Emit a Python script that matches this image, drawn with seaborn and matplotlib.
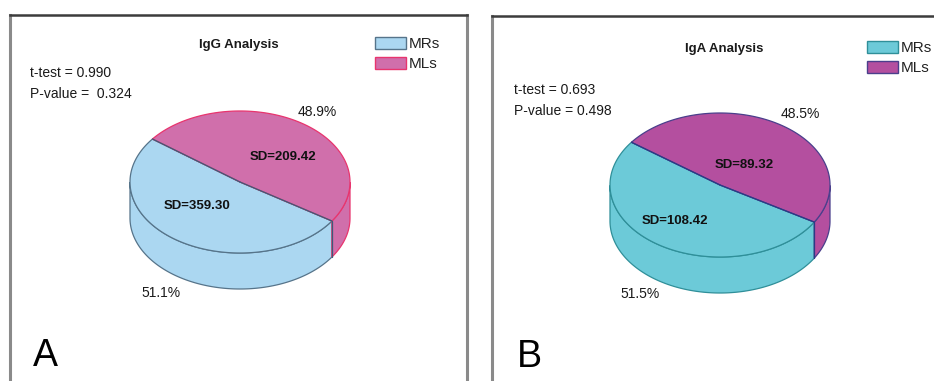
import numpy as np
import matplotlib
matplotlib.use("Agg")
import matplotlib.pyplot as plt
import seaborn as sns
from matplotlib.patches import Polygon, Rectangle

# ---- data -------------------------------------------------------------
groups = ["MRs", "MLs"]

igg_share = [51.1, 48.9]          # % of total
igg_sd = [359.30, 209.42]
igg_ttest = "0.990"
igg_pvalue = " 0.324"

iga_share = [51.5, 48.5]
iga_sd = [108.42, 89.32]
iga_ttest = "0.693"
iga_pvalue = "0.498"

# ---- style ------------------------------------------------------------
sns.set_style("white")
plt.rcParams["font.family"] = ["Liberation Sans", "DejaVu Sans"]

igg_colors = sns.color_palette(["#abd7f1", "#d06fab"])
igg_edges = ["#56748a", "#e8356e"]
igg_split = "#3f5a78"
iga_colors = sns.color_palette(["#6ccad8", "#b44f9f"])
iga_edges = ["#2f8f99", "#4a3f8c"]
iga_split = "#2c3a86"

W, H = 934, 381
fig = plt.figure(figsize=(W / 100, H / 100), dpi=100)


def panel_axes(x0, x1, y0, y1):
    """Axes whose data units are figure pixels (y pointing down)."""
    ax = fig.add_axes([x0 / W, 1 - y1 / H, (x1 - x0) / W, (y1 - y0) / H])
    ax.set_xlim(x0, x1)
    ax.set_ylim(y1, y0)
    ax.set_xticks([])
    ax.set_yticks([])
    ax.spines["top"].set_color("#3c3c3c")
    ax.spines["top"].set_linewidth(1.8)
    for s in ("left", "right"):
        ax.spines[s].set_color("#8a8a8a")
        ax.spines[s].set_linewidth(2.2)
    ax.spines["bottom"].set_visible(False)
    return ax


def pie3d(ax, shares, colors, edges, split, cx, cy, rx, ry, depth, start):
    """Draw a tilted pie; slices run clockwise from `start` degrees."""
    fr = np.asarray(shares, float) / np.sum(shares)
    bounds = start - 360 * np.concatenate([[0], np.cumsum(fr)])
    slices = []
    for i in range(len(fr)):
        hi, lo = bounds[i], bounds[i + 1]
        t = np.radians(np.linspace(lo, hi, 400))
        slices.append(t)
        # visible front wall (lower half of the ellipse)
        front = np.sin(t) <= 0
        idx = np.flatnonzero(front)
        if idx.size:
            runs = np.split(idx, np.flatnonzero(np.diff(idx) > 1) + 1)
            for r in runs:
                tt = t[r]
                xs = cx + rx * np.cos(tt)
                ys = cy - ry * np.sin(tt)
                pts = np.vstack([np.column_stack([xs, ys]),
                                 np.column_stack([xs[::-1], ys[::-1] + depth])])
                ax.add_patch(Polygon(pts, closed=True, facecolor=colors[i],
                                     edgecolor=edges[i], lw=0.9, zorder=1))
    for i, t in enumerate(slices):
        xs = cx + rx * np.cos(t)
        ys = cy - ry * np.sin(t)
        pts = np.vstack([[cx, cy], np.column_stack([xs, ys])])
        ax.add_patch(Polygon(pts, closed=True, facecolor=colors[i],
                             edgecolor=edges[i], lw=0.9, zorder=2))
    # slice boundaries: radial line on top, vertical seam on the front wall
    for b in np.radians(bounds[:-1]):
        bx, by = cx + rx * np.cos(b), cy - ry * np.sin(b)
        ax.plot([cx, bx], [cy, by], color=split, lw=0.9, zorder=3)
        if np.sin(b) < 0:
            ax.plot([bx, bx], [by, by + depth], color=split, lw=0.9, zorder=3)


def legend_keys(ax, x, y, colors, edges):
    for i, g in enumerate(groups):
        yy = y + i * 20
        ax.add_patch(Rectangle((x, yy), 31, 12, facecolor=colors[i],
                               edgecolor=edges[i], lw=1.0, zorder=3))
        ax.text(x + 34, yy + 6.5, g, fontsize=11, va="center", ha="left",
                color="#222222")


def panel(ax, title, tpos, share, sd, ttest, pval, colors, edges, split,
          stats_xy, pie, pct_pos, sd_pos, leg_xy, letter, letter_xy):
    ax.text(*tpos, title, fontsize=9.5, fontweight="bold", ha="center",
            va="center", color="#1a1a1a")
    sx, sy = stats_xy
    ax.text(sx, sy, f"t-test = {ttest}", fontsize=10, va="center",
            color="#1a1a1a")
    ax.text(sx, sy + 20.5, f"P-value = {pval}", fontsize=10, va="center",
            color="#1a1a1a")
    pie3d(ax, share, colors, edges, split, *pie)
    for i in range(len(groups)):
        ax.text(*pct_pos[i], f"{share[i]:.1f}%", fontsize=10, ha="center",
                va="center", color="#1a1a1a", zorder=4)
        ax.text(*sd_pos[i], f"SD={sd[i]:.2f}", fontsize=9.5,
                fontweight="bold", ha="center", va="center",
                color="#111111", zorder=4)
    legend_keys(ax, *leg_xy, colors, edges)
    ax.text(*letter_xy, letter, fontsize=27, ha="left", va="baseline",
            color="black")


ax_a = panel_axes(10, 467, 15, 400)
panel(ax_a, "IgG Analysis", (239, 45), igg_share, igg_sd, igg_ttest,
      igg_pvalue, igg_colors, igg_edges, igg_split,
      stats_xy=(30, 73),
      pie=(240, 182, 110, 71, 36, -33.3),
      pct_pos=[(161, 293), (317, 112)],
      sd_pos=[(197, 206), (283, 157)],
      leg_xy=(375, 37),
      letter="A", letter_xy=(33, 366))

ax_b = panel_axes(492, 960, 16, 400)
panel(ax_b, "IgA Analysis", (724, 49), iga_share, iga_sd, iga_ttest,
      iga_pvalue, iga_colors, iga_edges, iga_split,
      stats_xy=(514, 90),
      pie=(720, 185, 110, 72, 36, -31.0),
      pct_pos=[(640, 294), (800, 114)],
      sd_pos=[(675, 221), (744, 165)],
      leg_xy=(867, 41),
      letter="B", letter_xy=(517, 367))

fig.savefig("out.png", dpi=100)
